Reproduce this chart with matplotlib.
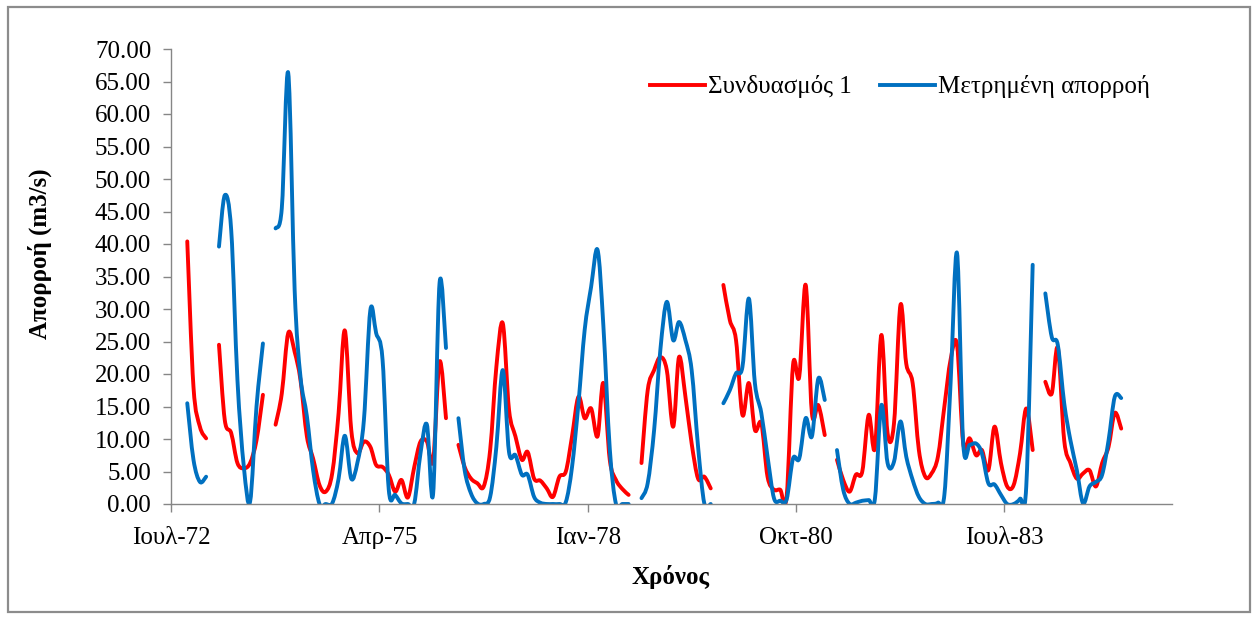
#!/usr/bin/env python3
# -*- coding: utf-8 -*-

# Monthly runoff: model combination 1 vs. measured runoff, 1972-1985

import numpy as np
import pandas as pd
import matplotlib
matplotlib.use("Agg")
import matplotlib.pyplot as plt
import matplotlib.dates as mdates
from matplotlib.lines import Line2D
from matplotlib.path import Path
from matplotlib.patches import PathPatch, Rectangle

plt.rcParams["font.family"] = ["Liberation Serif", "DejaVu Serif"]

# First month of the series, one value per month (nan = missing month)
first_month = "1972-09-01"

nan = np.nan

# Συνδυασμός 1 (simulated), m3/s
simulated = [
    40.4, 18.0, 11.9, 10.1, nan,
    24.5, 12.9, 10.9, 6.3, 5.5, 6.3, 9.8, 16.8, nan,
    12.2, 17.0, 26.3, 23.4, 19.1, 10.4, 7.0, 2.9, 1.9, 4.7, 14.0, 26.7,
    11.4, 7.8, 9.6, 8.8, 6.0, 5.7, 4.5, 1.9, 3.7, 1.0, 5.7, 9.6,
    9.6, 6.7, 21.9, 13.2, nan,
    9.1, 5.7, 3.9, 3.2, 2.7, 8.3, 21.1, 27.8, 14.5, 10.4, 6.8, 8.0,
    3.9, 3.6, 2.4, 1.1, 4.2, 5.0, 10.4, 16.5, 13.2, 14.7, 10.4, 18.6,
    6.8, 3.7, 2.3, 1.4, nan,
    6.3, 17.5, 20.6, 22.6, 20.6, 11.9, 22.6, 16.5, 9.3, 3.9, 4.2, 2.4, nan,
    33.7, 28.3, 25.2, 13.7, 18.6, 11.4, 12.4, 4.2, 2.2, 2.2, 1.1, 21.4,
    19.6, 33.7, 14.0, 15.2, 10.6, nan,
    6.8, 3.7, 1.9, 4.5, 5.0, 13.7, 8.6, 26.0, 10.9, 12.4, 30.6, 21.6,
    18.6, 8.3, 4.2, 4.7, 7.3, 15.0, 22.2, 24.5, 9.3, 10.1, 7.5, 8.3,
    5.2, 11.9, 6.3, 2.7, 2.9, 7.8, 14.7, 8.3, nan,
    18.8, 17.0, 24.0, 9.8, 6.3, 3.9, 4.7, 5.2, 2.7, 6.3, 8.8, 14.0, 11.6,
]

# Μετρημένη απορροή (measured), m3/s
measured = [
    15.5, 6.8, 3.4, 4.2, nan,
    39.6, 47.5, 42.1, 19.1, 5.7, 0.35, 15.0, 24.7, nan,
    42.4, 45.5, 66.3, 32.9, 19.6, 13.5, 5.2, 0.0, 0.0, 0.1, 3.9, 10.5,
    3.9, 6.4, 12.9, 29.8, 26.3, 22.2, 2.2, 1.4, 0.1, 0.0, 0.1, 7.8,
    12.2, 1.6, 34.0, 24.0, nan,
    13.2, 5.2, 1.6, 0.1, 0.0, 1.1, 8.8, 20.6, 8.0, 7.5, 4.5, 4.5,
    1.1, 0.2, 0.0, 0.0, 0.0, 0.3, 5.7, 15.5, 26.8, 33.4, 39.1, 27.5,
    8.5, 0.0, 0.0, 0.0, nan,
    0.9, 3.2, 11.4, 23.7, 31.1, 25.2, 28.0, 25.2, 20.6, 8.8, 0.1, 0.0, nan,
    15.5, 17.5, 20.1, 21.1, 31.6, 18.6, 14.0, 7.3, 0.9, 0.5, 0.7, 7.0,
    7.0, 13.2, 10.4, 19.3, 16.0, nan,
    8.3, 2.2, 0.0, 0.2, 0.5, 0.6, 0.8, 15.2, 6.3, 6.5, 12.7, 7.3,
    3.7, 1.1, 0.0, 0.0, 0.2, 1.4, 18.6, 38.6, 9.3, 9.1, 9.3, 7.8,
    3.2, 3.0, 1.4, 0.0, 0.0, 0.8, 2.7, 36.8, nan,
    32.4, 25.7, 24.5, 15.5, 9.8, 5.2, 0.1, 2.7, 3.4, 4.5, 9.8, 16.5, 16.3,
]

series_names = ["Συνδυασμός 1", "Μετρημένη απορροή"]
series_colors = ["#FF0000", "#0070C0"]

greek_months = ["Ιαν", "Φεβ", "Μαρ", "Απρ", "Μαϊ", "Ιουν",
                "Ιουλ", "Αυγ", "Σεπ", "Οκτ", "Νοε", "Δεκ"]

# Tick dates every 33 months, starting July 1972
tick_dates = pd.date_range("1972-07-01", periods=5, freq="33MS")

# Points sit in the middle of each month
dates = pd.date_range(first_month, periods=len(simulated), freq="MS") + pd.Timedelta(days=15)
xnum = mdates.date2num(dates)

FS = 18


def smoothed_path(x, y):
    """Bezier path through every point of each unbroken run (nan splits runs)."""
    verts, codes = [], []
    y = np.asarray(y, dtype=float)
    ok = ~np.isnan(y)
    i = 0
    while i < len(y):
        if not ok[i]:
            i += 1
            continue
        j = i
        while j < len(y) and ok[j]:
            j += 1
        p = np.column_stack([x[i:j], y[i:j]])
        n = len(p)
        verts.append(p[0])
        codes.append(Path.MOVETO)
        for k in range(n - 1):
            prev = p[k - 1] if k > 0 else p[k]
            nxt = p[k + 2] if k + 2 < n else p[k + 1]
            verts += [p[k] + (p[k + 1] - prev) / 6,
                      p[k + 1] - (nxt - p[k]) / 6,
                      p[k + 1]]
            codes += [Path.CURVE4] * 3
        i = j
    return Path(verts, codes)


W, H = 1258, 619
fig = plt.figure(figsize=(W / 100, H / 100), dpi=100)

# Plot area in pixels: left, right, top, bottom
left, right, top, bottom = 171.3, 1172, 49, 504
ax = fig.add_axes([left / W, 1 - bottom / H, (right - left) / W, (bottom - top) / H])

# Chart border
fig.patches.append(Rectangle((8 / W, 1 - 612 / H), 1242 / W, 605 / H,
                             transform=fig.transFigure, fill=False,
                             edgecolor="#8C8C8C", linewidth=1.6))

handles = []
for values, name, color in zip([simulated, measured], series_names, series_colors):
    ax.add_patch(PathPatch(smoothed_path(xnum, values), fill=False,
                           edgecolor=color, linewidth=2.8,
                           capstyle="round", joinstyle="round"))
    handles.append(Line2D([], [], color=color, linewidth=2.8, label=name))

ax.set_ylim(0, 70)
ax.set_yticks(np.arange(0, 70.1, 5))
ax.yaxis.set_major_formatter("{x:.2f}")

ax.set_xlim(mdates.date2num(pd.Timestamp("1972-07-01")),
            mdates.date2num(pd.Timestamp("1985-09-18")))
ax.set_xticks(mdates.date2num(tick_dates))
ax.set_xticklabels([f"{greek_months[d.month - 1]}-{d.year % 100:02d}" for d in tick_dates])

for side in ("top", "right"):
    ax.spines[side].set_visible(False)
for side in ("left", "bottom"):
    ax.spines[side].set_color("#868686")
    ax.spines[side].set_linewidth(1.0)

ax.tick_params(axis="both", direction="out", length=5.5, width=1.0,
               color="#868686", labelsize=FS)
ax.tick_params(axis="y", pad=9)
ax.tick_params(axis="x", pad=11)

fig.text(40 / W, 1 - 254 / H, "Απορροή (m3/s)", rotation=90, fontsize=FS,
         fontweight="bold", ha="center", va="center")
fig.text(670 / W, 1 - 577 / H, "Χρόνος", fontsize=FS, fontweight="bold",
         ha="center", va="center")

ax.legend(handles=handles, loc="center", bbox_to_anchor=(900 / W, 1 - 87 / H),
          bbox_transform=fig.transFigure, ncol=2, frameon=False,
          fontsize=FS, handlelength=2.2, handletextpad=0.15,
          columnspacing=1.1, borderpad=0)

fig.savefig("out.png", dpi=100)
